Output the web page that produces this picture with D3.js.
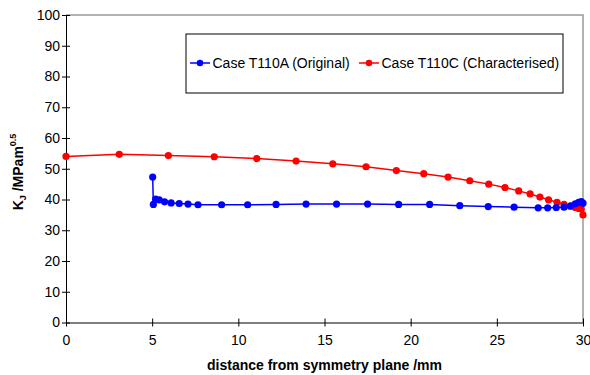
<html>
<head>
  <script src="https://d3js.org/d3.v7.min.js"></script>
  <style>
    body { margin: 0; background: #fff; }
    text { font-family: "Liberation Sans", Arial, sans-serif; }
  </style>
</head>
<body>
<script>
var width = 590, height = 375;
var margin = {left: 66, right: 7, top: 15, bottom: 52.5};

// Case T110A (Original)
var origX = [5.03, 5.07, 5.2, 5.41, 5.72, 6.1, 6.57, 7.08, 7.66, 9.03, 10.54, 12.19, 13.93, 15.7, 17.5, 19.3, 21.1, 22.85, 24.5, 26.0, 27.4, 27.95, 28.45, 28.9, 29.28, 29.55, 29.75, 29.9, 30.0];
var origY = [47.3, 38.4, 40.1, 39.9, 39.25, 38.9, 38.7, 38.5, 38.3, 38.3, 38.3, 38.4, 38.5, 38.5, 38.5, 38.4, 38.4, 38.0, 37.7, 37.5, 37.3, 37.3, 37.4, 37.5, 37.9, 38.6, 39.1, 39.35, 38.8];

// Case T110C (Characterised)
var charX = [0, 3.09, 5.94, 8.6, 11.07, 13.35, 15.48, 17.41, 19.17, 20.76, 22.17, 23.43, 24.53, 25.47, 26.27, 26.93, 27.5, 28.0, 28.49, 28.9, 29.26, 29.55, 29.75, 29.9, 30.0];
var charY = [54.0, 54.7, 54.3, 53.9, 53.3, 52.5, 51.6, 50.65, 49.4, 48.4, 47.3, 46.1, 45.0, 43.9, 42.8, 41.8, 40.8, 39.9, 39.1, 38.4, 37.8, 37.4, 37.1, 36.9, 35.0];

var xTicks = [0, 5, 10, 15, 20, 25, 30];
var yTicks = d3.range(0, 101, 10);

var svg = d3.select("body").append("svg")
  .attr("width", width).attr("height", height);

var x = d3.scaleLinear().domain([0, 30]).range([margin.left, width - margin.right]);
var y = d3.scaleLinear().domain([0, 100]).range([height - margin.bottom, margin.top]);

// plot area border (top/right grey)
svg.append("path")
  .attr("d", "M" + x(0) + "," + y(100) + "H" + x(30) + "V" + y(0))
  .attr("fill", "none").attr("stroke", "#999").attr("stroke-width", 1.5);

var xAxis = svg.append("g")
  .attr("transform", "translate(0," + y(0) + ")")
  .call(d3.axisBottom(x).tickValues(xTicks).tickSize(4).tickPadding(9).tickSizeOuter(0));
var yAxis = svg.append("g")
  .attr("transform", "translate(" + x(0) + ",0)")
  .call(d3.axisLeft(y).tickValues(yTicks).tickSize(4).tickPadding(2).tickSizeOuter(0));

// ticks cross the axis, Excel style
yAxis.selectAll(".tick line").attr("x1", -4).attr("x2", 4);
xAxis.selectAll(".tick line").attr("y1", -4).attr("y2", 4);
[xAxis, yAxis].forEach(function(a) {
  a.selectAll("text").attr("font-size", 14).attr("fill", "#000")
    .style("font-family", "'Liberation Sans', Arial, sans-serif");
  a.selectAll("path, line").attr("stroke", "#000");
});

function series(xs, ys, color) {
  var pts = xs.map(function(d, i) { return [d, ys[i]]; });
  var line = d3.line().x(function(d) { return x(d[0]); }).y(function(d) { return y(d[1]); });
  svg.append("path").datum(pts).attr("d", line)
    .attr("fill", "none").attr("stroke", color).attr("stroke-width", 1.5);
  svg.append("g").selectAll("circle").data(pts).enter().append("circle")
    .attr("cx", function(d) { return x(d[0]); })
    .attr("cy", function(d) { return y(d[1]); })
    .attr("r", 3.6).attr("fill", color);
}
series(charX, charY, "#ff0000");
series(origX, origY, "#0000ff");

// legend
var lg = svg.append("g");
lg.append("rect").attr("x", 186).attr("y", 34).attr("width", 377).attr("height", 59)
  .attr("fill", "#fff").attr("stroke", "#000").attr("stroke-width", 1);
var items = [
  {label: "Case T110A (Original)", color: "#0000ff", x: 190},
  {label: "Case T110C (Characterised)", color: "#ff0000", x: 359}
];
items.forEach(function(it) {
  lg.append("line").attr("x1", it.x).attr("x2", it.x + 20).attr("y1", 63).attr("y2", 63)
    .attr("stroke", it.color).attr("stroke-width", 1.5);
  lg.append("circle").attr("cx", it.x + 10).attr("cy", 63).attr("r", 3.3).attr("fill", it.color);
  lg.append("text").attr("x", it.x + 22.5).attr("y", 68).attr("font-size", 14).text(it.label);
});

// axis titles
svg.append("text").attr("x", (x(0) + x(30)) / 2).attr("y", 370)
  .attr("text-anchor", "middle").attr("font-size", 14).attr("font-weight", "bold")
  .text("distance from symmetry plane /mm");

var yt = svg.append("text")
  .attr("transform", "translate(23,172) rotate(-90)")
  .attr("text-anchor", "middle").attr("font-size", 14).attr("font-weight", "bold");
yt.append("tspan").text("K");
yt.append("tspan").attr("font-size", 9).attr("dy", 3).text("J");
yt.append("tspan").attr("dy", -3).text(" /MPam");
yt.append("tspan").attr("font-size", 9).attr("dy", -7).text("0.5");
</script>
</body>
</html>
